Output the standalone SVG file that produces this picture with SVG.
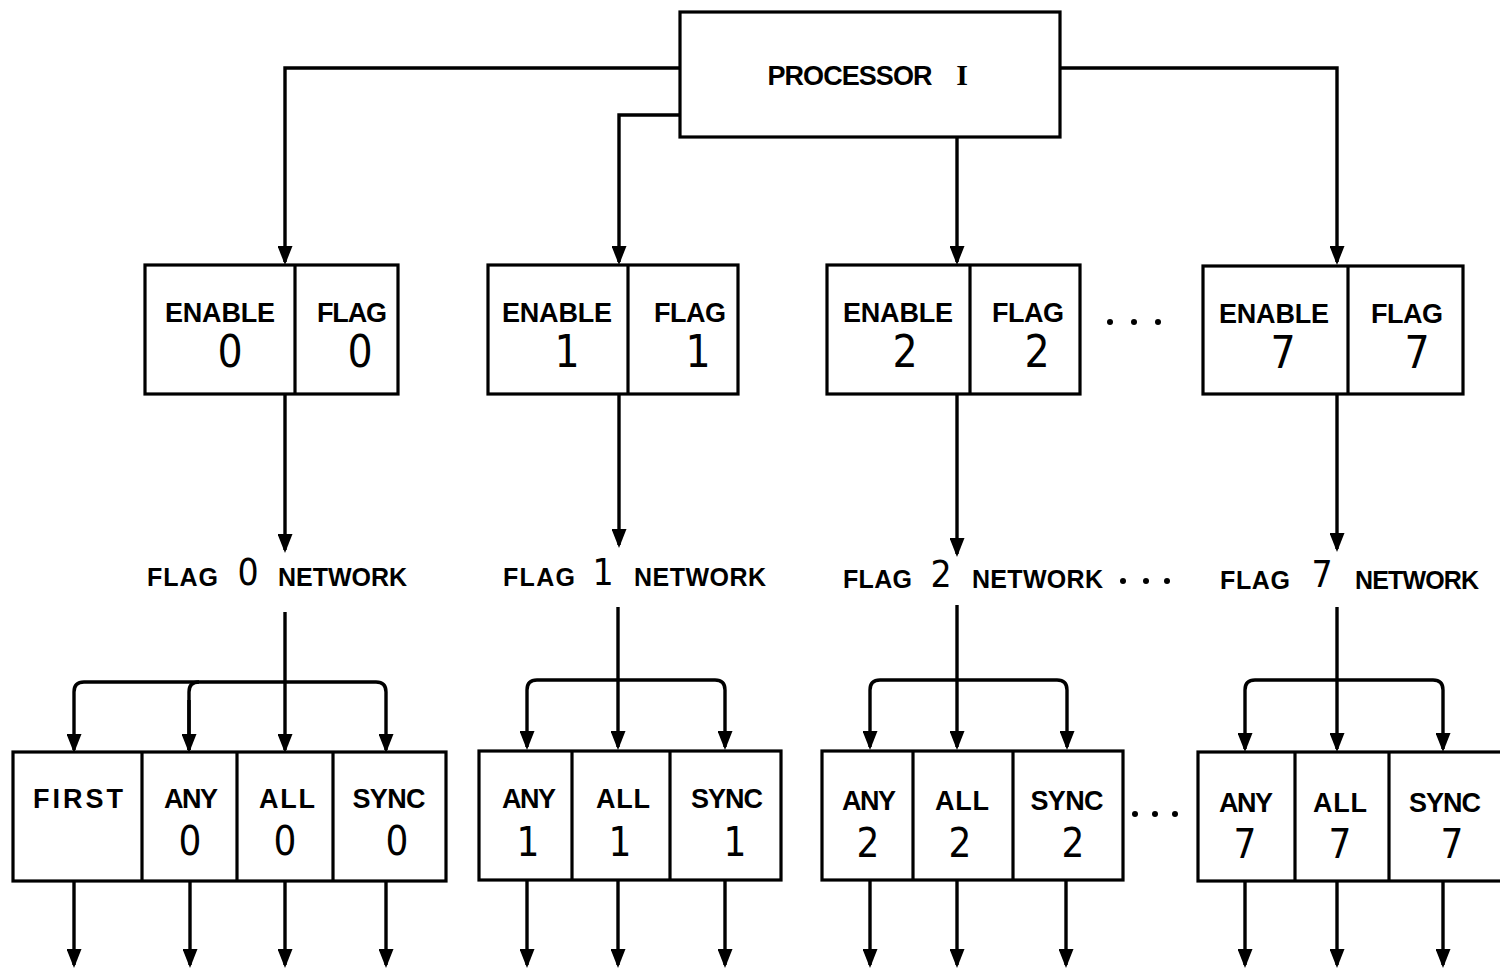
<svg xmlns="http://www.w3.org/2000/svg" width="1500" height="970" viewBox="0 0 1500 970">
<style>
.box{fill:#fff;stroke:#000;stroke-width:3.2}
.div{stroke:#000;stroke-width:3.2}
.c{fill:none;stroke:#000;stroke-width:3.4}
.t{font-family:"Liberation Sans","DejaVu Sans",sans-serif;font-weight:bold;font-size:27px;fill:#000;text-anchor:middle}
.n{font-family:"Liberation Sans Narrow","DejaVu Sans Condensed","Liberation Sans",sans-serif;font-size:44px;fill:#000;text-anchor:middle}
.nb{font-family:"Liberation Sans Narrow","DejaVu Sans Condensed","Liberation Sans",sans-serif;font-size:40px;fill:#000;text-anchor:middle}
.nn{font-family:"Liberation Sans Narrow","DejaVu Sans Condensed","Liberation Sans",sans-serif;font-size:37px;fill:#000;text-anchor:middle}
.tl{font-family:"Liberation Sans","DejaVu Sans",sans-serif;font-weight:bold;font-size:25px;fill:#000}
.dot{fill:#000}
</style>
<defs>
<marker id="arr" viewBox="0 0 19 15" refX="16" refY="7.5" markerWidth="19" markerHeight="15" markerUnits="userSpaceOnUse" orient="auto">
<path d="M0,0 L19,7.5 L0,15 Z" fill="#000"/>
</marker>
</defs>
<rect width="1500" height="970" fill="#fff"/>

<g id="connectors">
<path class="c" d="M680,68 H285 V262" marker-end="url(#arr)"/>
<path class="c" d="M680,115 H619 V262" marker-end="url(#arr)"/>
<path class="c" d="M957,137 V262" marker-end="url(#arr)"/>
<path class="c" d="M1060,68 H1337 V262" marker-end="url(#arr)"/>
<path class="c" d="M285,394 V550" marker-end="url(#arr)"/>
<path class="c" d="M619,394 V545" marker-end="url(#arr)"/>
<path class="c" d="M957,394 V554" marker-end="url(#arr)"/>
<path class="c" d="M1337,394 V549" marker-end="url(#arr)"/>
<path class="c" d="M285,612 V750" marker-end="url(#arr)"/>
<path class="c" d="M74,692 Q74,682 84,682 H376 Q386,682 386,692 V750" marker-end="url(#arr)"/>
<path class="c" d="M74,692 V750" marker-end="url(#arr)"/>
<path class="c" d="M189,750 V692 Q189,682 199,682"/>
<path class="c" d="M189,700 V750" marker-end="url(#arr)"/>
<path class="c" d="M618,607 V747" marker-end="url(#arr)"/>
<path class="c" d="M527,690 Q527,680 537,680 H715 Q725,680 725,690 V747" marker-end="url(#arr)"/>
<path class="c" d="M527,690 V747" marker-end="url(#arr)"/>
<path class="c" d="M957,605 V747" marker-end="url(#arr)"/>
<path class="c" d="M870,690 Q870,680 880,680 H1057 Q1067,680 1067,690 V747" marker-end="url(#arr)"/>
<path class="c" d="M870,690 V747" marker-end="url(#arr)"/>
<path class="c" d="M1337,607 V749" marker-end="url(#arr)"/>
<path class="c" d="M1245,690 Q1245,680 1255,680 H1433 Q1443,680 1443,690 V749" marker-end="url(#arr)"/>
<path class="c" d="M1245,690 V749" marker-end="url(#arr)"/>
<path class="c" d="M74,881 V965" marker-end="url(#arr)"/>
<path class="c" d="M190,881 V965" marker-end="url(#arr)"/>
<path class="c" d="M285,881 V965" marker-end="url(#arr)"/>
<path class="c" d="M386,881 V965" marker-end="url(#arr)"/>
<path class="c" d="M527,880 V965" marker-end="url(#arr)"/>
<path class="c" d="M618,880 V965" marker-end="url(#arr)"/>
<path class="c" d="M725,880 V965" marker-end="url(#arr)"/>
<path class="c" d="M870,880 V965" marker-end="url(#arr)"/>
<path class="c" d="M957,880 V965" marker-end="url(#arr)"/>
<path class="c" d="M1066,880 V965" marker-end="url(#arr)"/>
<path class="c" d="M1245,881 V965" marker-end="url(#arr)"/>
<path class="c" d="M1337,881 V965" marker-end="url(#arr)"/>
<path class="c" d="M1443,881 V965" marker-end="url(#arr)"/>
</g>

<g id="processor">
<rect class="box" x="680" y="12" width="380" height="125"/>
<text class="t" x="850" y="85" font-size="29" textLength="165">PROCESSOR</text>
<text x="962" y="85" font-family="Liberation Serif,serif" font-weight="bold" font-size="30" text-anchor="middle">I</text>
</g>

<g id="ef0">
<rect class="box" x="145" y="265" width="253" height="129"/>
<line class="div" x1="295" y1="265" x2="295" y2="394"/>
<text class="t" x="220" y="322" textLength="110">ENABLE</text>
<text class="n" x="230" y="367">0</text>
<text class="t" x="352" y="322" textLength="70">FLAG</text>
<text class="n" x="360" y="367">0</text>
</g>
<g id="ef1">
<rect class="box" x="488" y="265" width="250" height="129"/>
<line class="div" x1="628" y1="265" x2="628" y2="394"/>
<text class="t" x="557" y="322" textLength="110">ENABLE</text>
<text class="n" x="567" y="367">1</text>
<text class="t" x="690" y="322" textLength="72">FLAG</text>
<text class="n" x="698" y="367">1</text>
</g>
<g id="ef2">
<rect class="box" x="827" y="265" width="253" height="129"/>
<line class="div" x1="970" y1="265" x2="970" y2="394"/>
<text class="t" x="898" y="322" textLength="110">ENABLE</text>
<text class="n" x="905" y="367">2</text>
<text class="t" x="1028" y="322" textLength="72">FLAG</text>
<text class="n" x="1037" y="367">2</text>
<circle class="dot" cx="1110" cy="322" r="3"/>
<circle class="dot" cx="1134" cy="322" r="3"/>
<circle class="dot" cx="1158" cy="322" r="3"/>
</g>
<g id="ef7">
<rect class="box" x="1203" y="266" width="260" height="128"/>
<line class="div" x1="1348" y1="266" x2="1348" y2="394"/>
<text class="t" x="1274" y="323" textLength="110">ENABLE</text>
<text class="n" x="1283" y="368">7</text>
<text class="t" x="1407" y="323" textLength="72">FLAG</text>
<text class="n" x="1417" y="368">7</text>
</g>

<g id="net0">
<text class="tl" x="147" y="586" textLength="71">FLAG</text>
<text class="nn" x="248" y="585">0</text>
<text class="tl" x="278" y="586" textLength="129">NETWORK</text>
</g>
<g id="net1">
<text class="tl" x="503" y="586" textLength="72">FLAG</text>
<text class="nn" x="603" y="585">1</text>
<text class="tl" x="634" y="586" textLength="132">NETWORK</text>
</g>
<g id="net2">
<text class="tl" x="843" y="588" textLength="69">FLAG</text>
<text class="nn" x="941" y="587">2</text>
<text class="tl" x="972" y="588" textLength="131">NETWORK</text>
<circle class="dot" cx="1123" cy="581" r="3"/>
<circle class="dot" cx="1146" cy="581" r="3"/>
<circle class="dot" cx="1167" cy="581" r="3"/>
</g>
<g id="net7">
<text class="tl" x="1220" y="589" textLength="70">FLAG</text>
<text class="nn" x="1322" y="587">7</text>
<text class="tl" x="1355" y="589" textLength="124">NETWORK</text>
</g>

<g id="out0">
<rect class="box" x="13" y="752" width="433" height="129"/>
<line class="div" x1="142" y1="752" x2="142" y2="881"/>
<line class="div" x1="237" y1="752" x2="237" y2="881"/>
<line class="div" x1="333" y1="752" x2="333" y2="881"/>
<text class="t" x="78" y="808" textLength="90">FIRST</text>
<text class="t" x="191" y="808" textLength="54">ANY</text>
<text class="nb" x="190" y="855">0</text>
<text class="t" x="287" y="808" textLength="56">ALL</text>
<text class="nb" x="285" y="855">0</text>
<text class="t" x="389" y="808" textLength="73">SYNC</text>
<text class="nb" x="397" y="855">0</text>
</g>
<g id="out1">
<rect class="box" x="479" y="751" width="302" height="129"/>
<line class="div" x1="572" y1="751" x2="572" y2="880"/>
<line class="div" x1="670" y1="751" x2="670" y2="880"/>
<text class="t" x="529" y="808" textLength="54">ANY</text>
<text class="nb" x="528" y="856">1</text>
<text class="t" x="623" y="808" textLength="54">ALL</text>
<text class="nb" x="620" y="856">1</text>
<text class="t" x="727" y="808" textLength="72">SYNC</text>
<text class="nb" x="735" y="856">1</text>
</g>
<g id="out2">
<rect class="box" x="822" y="751" width="301" height="129"/>
<line class="div" x1="913" y1="751" x2="913" y2="880"/>
<line class="div" x1="1013" y1="751" x2="1013" y2="880"/>
<text class="t" x="869" y="810" textLength="54">ANY</text>
<text class="nb" x="868" y="857">2</text>
<text class="t" x="962" y="810" textLength="54">ALL</text>
<text class="nb" x="960" y="857">2</text>
<text class="t" x="1067" y="810" textLength="73">SYNC</text>
<text class="nb" x="1073" y="857">2</text>
<circle class="dot" cx="1135" cy="814" r="3"/>
<circle class="dot" cx="1155" cy="814" r="3"/>
<circle class="dot" cx="1175" cy="814" r="3"/>
</g>
<g id="out7">
<rect class="box" x="1198" y="752" width="320" height="129"/>
<line class="div" x1="1295" y1="752" x2="1295" y2="881"/>
<line class="div" x1="1389" y1="752" x2="1389" y2="881"/>
<text class="t" x="1246" y="812" textLength="54">ANY</text>
<text class="nb" x="1245" y="858">7</text>
<text class="t" x="1340" y="812" textLength="54">ALL</text>
<text class="nb" x="1340" y="858">7</text>
<text class="t" x="1445" y="812" textLength="72">SYNC</text>
<text class="nb" x="1452" y="858">7</text>
</g>
</svg>
